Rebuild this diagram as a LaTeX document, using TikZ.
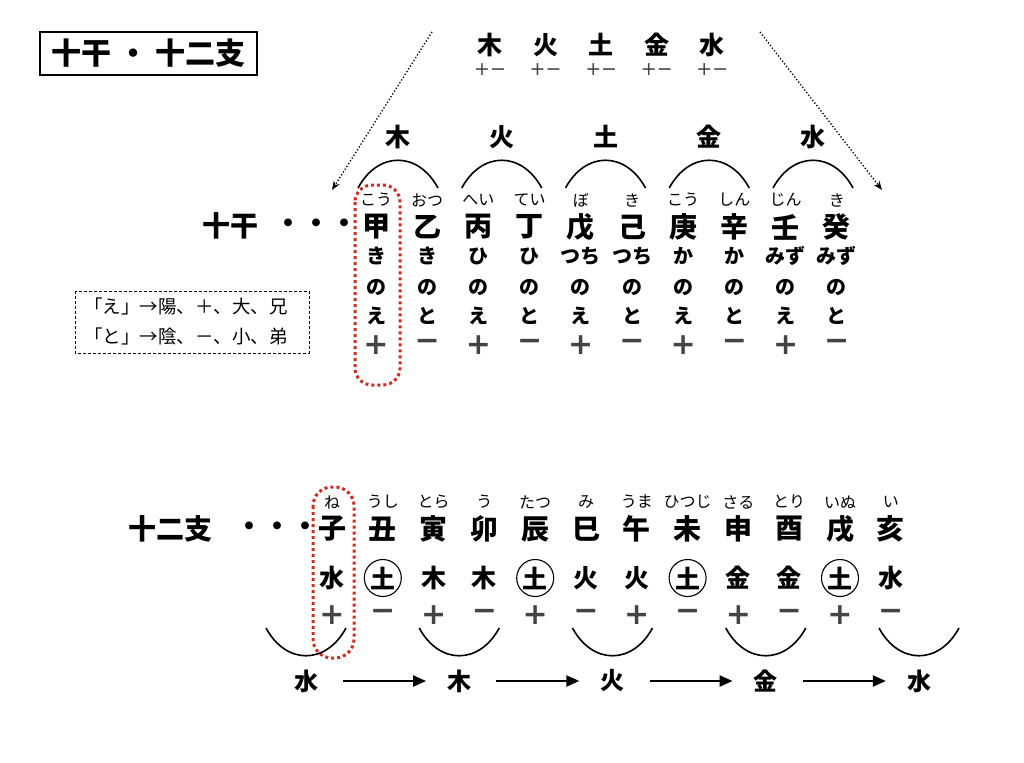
\documentclass[tikz,border=0pt]{standalone}
\usepackage{fontspec}
\setmainfont{Noto Sans CJK JP}
\newfontfamily\djv{DejaVu Sans}
\usetikzlibrary{arrows.meta}
\definecolor{redd}{HTML}{D42A20}
\definecolor{pmgray}{HTML}{444444}
\begin{document}
\begin{tikzpicture}[x=1pt,y=-1pt,
  big/.style={font=\fontsize{28}{30}\selectfont\bfseries, inner sep=0pt},
  furi/.style={font=\fontsize{16}{18}\selectfont, inner sep=0pt},
  rd/.style={font=\fontsize{20}{22}\selectfont\bfseries, inner sep=0pt},
  pmst/.style={font=\djv\fontsize{30}{32}\selectfont\bfseries, text=pmgray, inner sep=0pt},
  elem/.style={font=\fontsize{25}{27}\selectfont\bfseries, inner sep=0pt},
  cel/.style={elem, circle, draw, line width=1.1pt, minimum size=37pt},
  lbl/.style={font=\fontsize{24}{26}\selectfont\bfseries, inner sep=0pt},
  thin/.style={font=\djv\fontsize{19}{21}\selectfont, text=pmgray, inner sep=0pt},
  redbox/.style={draw=redd, line width=3pt, dash pattern=on 3pt off 3pt, rounded corners=17pt},
  arch/.style={line width=1.6pt},
  arr/.style={line width=2.3pt, -{Triangle[length=13pt,width=11pt]}},
  dotarr/.style={dotted, line width=1.3pt, -{Stealth[length=9pt,width=7pt]}},
  note/.style={font=\fontsize{18.5}{20}\selectfont, inner sep=0pt, anchor=west}
]
\useasboundingbox (0,0) rectangle (1024,762);

% title
\node[draw, line width=1.5pt, minimum width=217pt, minimum height=43pt, inner sep=0pt,
  font=\fontsize{30}{32}\selectfont\bfseries] (title) at (148.5,53.5) {十干 ・ 十二支};

% top elements
\foreach \e [count=\i from 0] in {木,火,土,金,水} {
  \node[elem] (te\i) at (490+55.6*\i,45) {\e};
  \node[thin] (tp\i) at (490+55.6*\i,70) {+−};
}
\coordinate (dlA) at (432,32);
\coordinate (dlB) at (332,190);
\coordinate (drA) at (760,32);
\coordinate (drB) at (882,190);
\draw[dotarr] (dlA) -- (dlB);
\draw[dotarr] (drA) -- (drB);

% element labels & arches over stems
\foreach \e [count=\i from 0] in {木,火,土,金,水} {
  \node[elem] (ge\i) at (398+103.75*\i,137) {\e};
  \coordinate (gl\i) at (358+103.75*\i,188);
  \coordinate (gr\i) at (438+103.75*\i,188);
  \draw[arch] (gl\i) .. controls ([xshift=20pt,yshift=37pt]gl\i) and ([xshift=-20pt,yshift=37pt]gr\i) .. (gr\i);
}

% ten stems
\node[big] (jikkan) at (230,226) {十干};
\node[big] (jdots) at (316,226) {・・・};
\foreach \s/\f/\a/\b/\p [count=\i from 0] in
  {甲/こう/き/え/+, 乙/おつ/き/と/−, 丙/へい/ひ/え/+, 丁/てい/ひ/と/−, 戊/ぼ/つち/え/+,
   己/き/つち/と/−, 庚/こう/か/え/+, 辛/しん/か/と/−, 壬/じん/みず/え/+, 癸/き/みず/と/−} {
  \node[furi] (sf\i) at (376+51.2*\i,200) {\f};
  \node[big] (s\i) at (376+51.2*\i,227) {\s};
  \node[rd] (sa\i) at (376+51.2*\i,256) {\a};
  \node[rd] (sn\i) at (376+51.2*\i,287) {の};
  \node[rd] (sb\i) at (376+51.2*\i,316) {\b};
  \node[pmst] (sp\i) at (376+51.2*\i,345) {\p};
}
\draw[redbox] (355,185) rectangle (400,385);

% note box
\draw[densely dashed, line width=0.8pt] (75,291) rectangle (309,353);
\node[note] (n1) at (84,306) {「え」→陽、＋、大、兄};
\node[note] (n2) at (84,336) {「と」→陰、－、小、弟};

% twelve branches
\node[big] (juni) at (170,529) {十二支};
\node[big] (bdots) at (277,529) {・・・};
\foreach \s/\f/\p [count=\i from 0] in
  {子/ね/+, 丑/うし/−, 寅/とら/+, 卯/う/−, 辰/たつ/+, 巳/み/−,
   午/うま/+, 未/ひつじ/−, 申/さる/+, 酉/とり/−, 戌/いぬ/+, 亥/い/−} {
  \node[furi] (bf\i) at (332+50.8*\i,502) {\f};
  \node[big] (b\i) at (332+50.8*\i,529) {\s};
  \node[pmst] (bp\i) at (332+50.8*\i,615) {\p};
}
\foreach \e/\c [count=\i from 0] in {水/0,土/1,木/0,木/0,土/1,火/0,火/0,土/1,金/0,金/0,土/1,水/0} {
  \ifnum\c=1
    \node[cel] (be\i) at (332+50.8*\i,578) {\e};
  \else
    \node[elem] (be\i) at (332+50.8*\i,578) {\e};
  \fi
}
\draw[redbox, rounded corners=19pt] (313,487) rectangle (354,658);

% bowls and cycle
\foreach \e [count=\i from 0] in {水,木,火,金,水} {
  \coordinate (ul\i) at (266+153.25*\i,628);
  \coordinate (ur\i) at (346+153.25*\i,628);
  \draw[arch] (ul\i) .. controls ([xshift=20pt,yshift=-37pt]ul\i) and ([xshift=-20pt,yshift=-37pt]ur\i) .. (ur\i);
  \node[lbl] (c\i) at (306+153.25*\i,681) {\e};
}
\foreach \i [evaluate=\i as \j using int(\i+1)] in {0,1,2,3} {
  \draw[arr, shorten <=25pt, shorten >=21pt] (c\i) -- (c\j);
}
\end{tikzpicture}
\end{document}
